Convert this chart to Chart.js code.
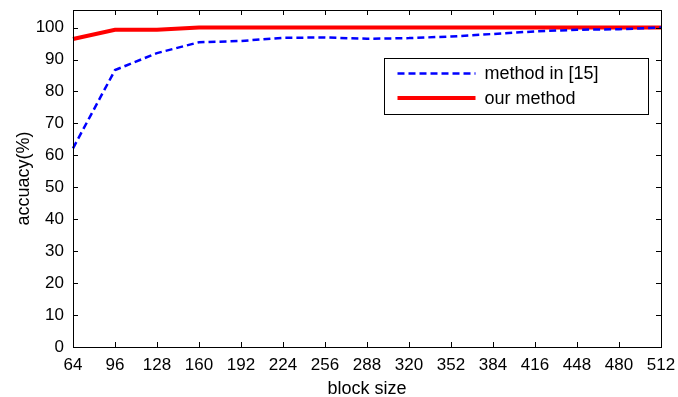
<!DOCTYPE html>
<html>
<head>
<meta charset="utf-8">
<script src="https://cdn.jsdelivr.net/npm/chart.js@4"></script>
<style>
  html, body { margin: 0; padding: 0; background: #fff; }
  #wrap { width: 678px; height: 397px; }
</style>
</head>
<body>
<div id="wrap"><canvas id="chart"></canvas></div>
<script>
const blockSizes = [64, 96, 128, 160, 192, 224, 256, 288, 320, 352, 384, 416, 448, 480, 512];
const method15 = [62.2, 86.7, 92.0, 95.4, 95.8, 96.8, 96.9, 96.5, 96.7, 97.2, 98.0, 98.8, 99.3, 99.5, 100];
const ourMethod = [96.4, 99.3, 99.3, 100, 100, 100, 100, 100, 100, 100, 100, 100, 100, 100, 100];
const yTicks = [0, 10, 20, 30, 40, 50, 60, 70, 80, 90, 100];

const FONT = 'Liberation Sans, Arial, sans-serif';

// frame + inward ticks on all four sides, and the legend box
const framePlugin = {
    id: 'frame',
    afterDraw(chart) {
        const { ctx, chartArea: a, scales } = chart;
        ctx.save();
        ctx.strokeStyle = '#000';
        ctx.lineWidth = 1;
        ctx.strokeRect(a.left + 0.5, a.top + 0.5, a.right - a.left, a.bottom - a.top);
        ctx.beginPath();
        const len = 5;
        scales.x.ticks.forEach(t => {
            const px = Math.round(scales.x.getPixelForValue(t.value)) + 0.5;
            ctx.moveTo(px, a.bottom); ctx.lineTo(px, a.bottom - len);
            ctx.moveTo(px, a.top); ctx.lineTo(px, a.top + len);
        });
        scales.y.ticks.forEach(t => {
            const py = Math.round(scales.y.getPixelForValue(t.value)) + 0.5;
            ctx.moveTo(a.left, py); ctx.lineTo(a.left + len, py);
            ctx.moveTo(a.right, py); ctx.lineTo(a.right - len, py);
        });
        ctx.stroke();

        // legend
        const bx = 384.5, by = 58.5, bw = 264, bh = 56;
        ctx.fillStyle = '#fff';
        ctx.fillRect(bx, by, bw, bh);
        ctx.strokeRect(bx, by, bw, bh);
        ctx.font = '18px ' + FONT;
        ctx.textBaseline = 'middle';
        chart.data.datasets.forEach((ds, i) => {
            const cy = by + 15 + i * 24.4;
            ctx.beginPath();
            ctx.strokeStyle = ds.borderColor;
            ctx.lineWidth = ds.borderWidth;
            ctx.setLineDash(ds.borderDash || []);
            ctx.moveTo(bx + 13, cy); ctx.lineTo(bx + 91, cy);
            ctx.stroke();
            ctx.setLineDash([]);
            ctx.fillStyle = '#000';
            ctx.fillText(ds.label, bx + 100, cy + 1);
        });
        ctx.restore();
    }
};

new Chart(document.getElementById('chart'), {
    type: 'line',
    data: {
        labels: blockSizes,
        datasets: [
            {
                label: 'method in [15]',
                data: method15,
                borderColor: '#0000ff',
                borderWidth: 2.5,
                borderDash: [7, 4],
                pointRadius: 0,
                fill: false
            },
            {
                label: 'our method',
                data: ourMethod,
                borderColor: '#ff0000',
                borderWidth: 4,
                pointRadius: 0,
                fill: false
            }
        ]
    },
    plugins: [framePlugin],
    options: {
        responsive: true,
        maintainAspectRatio: false,
        animation: false,
        layout: { padding: { top: 10, right: 17, left: 13, bottom: 0 } },
        plugins: { legend: { display: false }, tooltip: { enabled: false } },
        scales: {
            x: {
                type: 'category',
                offset: false,
                grid: { display: false, drawTicks: false },
                border: { display: false },
                ticks: { color: '#000', font: { family: FONT, size: 17 }, padding: 8, maxRotation: 0, autoSkip: false },
                title: { display: true, text: 'block size', color: '#000', font: { family: FONT, size: 18 }, padding: { top: 0, bottom: -3 } },
                afterFit(s) { s.height = 50; s.paddingLeft = 0; s.paddingRight = 0; }
            },
            y: {
                min: 0,
                max: 105.5,
                grid: { display: false, drawTicks: false },
                border: { display: false },
                afterBuildTicks(s) { s.ticks = yTicks.map(v => ({ value: v })); },
                ticks: { color: '#000', font: { family: FONT, size: 17 }, padding: 9 },
                title: { display: true, text: 'accuacy(%)', color: '#000', font: { family: FONT, size: 18 }, padding: 0 },
                afterFit(s) { s.width = 60; s.paddingTop = 0; s.paddingBottom = 0; }
            }
        }
    }
});
</script>
</body>
</html>
